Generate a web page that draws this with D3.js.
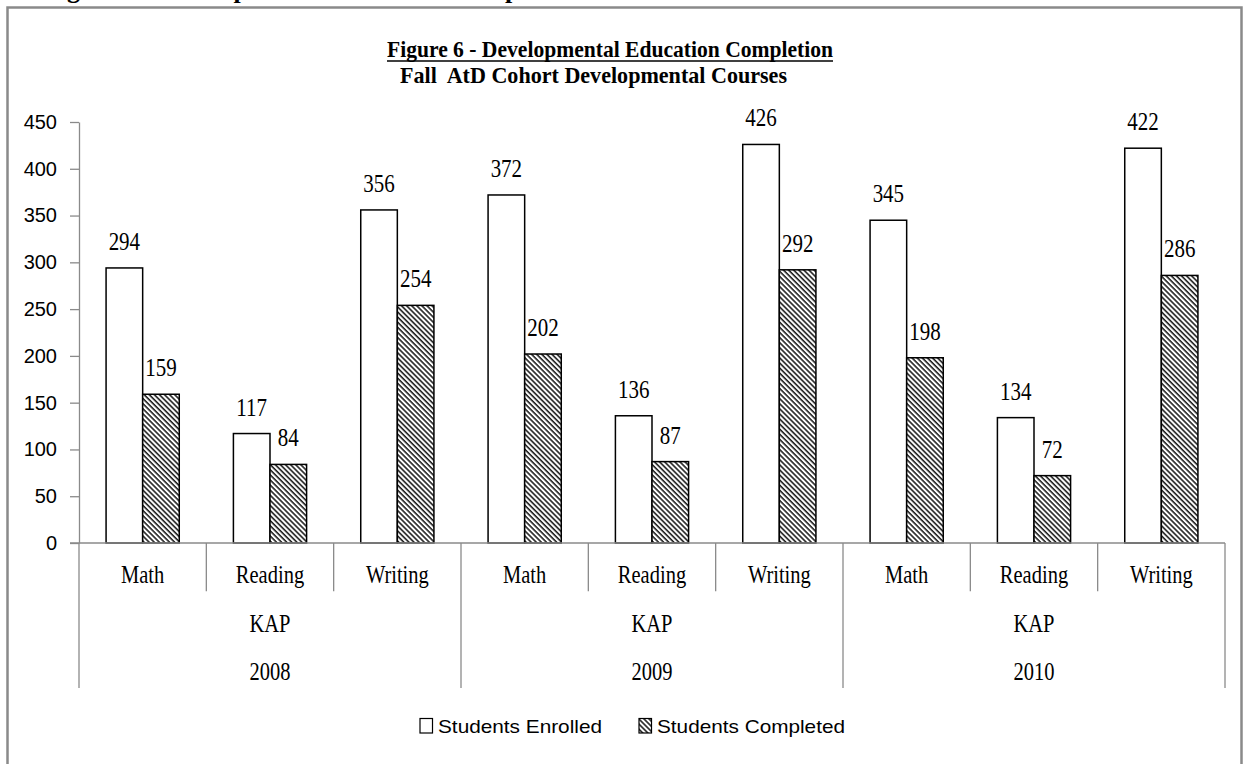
<!DOCTYPE html>
<html>
<head>
<meta charset="utf-8">
<script src="https://cdn.jsdelivr.net/npm/d3@7"></script>
<style>
  body { margin: 0; background: #fff; }
  svg { display: block; }
</style>
</head>
<body>
<div id="chart"></div>
<script>
(function() {
  // data
  var courses = ["Math", "Reading", "Writing", "Math", "Reading", "Writing", "Math", "Reading", "Writing"];
  var programs = ["KAP", "KAP", "KAP"];
  var years = ["2008", "2009", "2010"];
  var enrolled = [294, 117, 356, 372, 136, 426, 345, 134, 422];
  var completed = [159, 84, 254, 202, 87, 292, 198, 72, 286];
  var seriesNames = ["Students Enrolled", "Students Completed"];
  var yTicks = [0, 50, 100, 150, 200, 250, 300, 350, 400, 450];

  var width = 1252, height = 764;
  var plot = { left: 79, right: 1225, top: 122, bottom: 543 };
  var levelH = 48.3;

  var svg = d3.select("#chart")
    .append("svg")
    .attr("width", width)
    .attr("height", height);

  // hatch for the completed bars
  svg.append("defs")
    .append("pattern")
    .attr("id", "hatch")
    .attr("patternUnits", "userSpaceOnUse")
    .attr("width", 3.6)
    .attr("height", 3.6)
    .attr("patternTransform", "rotate(-45)")
    .call(function(p) {
      p.append("rect").attr("width", 3.6).attr("height", 3.6).attr("fill", "#fff");
      p.append("line").attr("x1", 1).attr("y1", 0).attr("x2", 1).attr("y2", 3.6)
        .attr("stroke", "#000").attr("stroke-width", 1.4);
    });

  function serif(g, x, y, txt, size, weight) {
    return g.append("text")
      .attr("transform", "translate(" + x + "," + y + ") scale(1,1.2)")
      .attr("text-anchor", "middle")
      .style("font-family", "'Liberation Serif', 'Times New Roman', serif")
      .style("font-size", size + "px")
      .style("font-weight", weight || "normal")
      .attr("fill", "#000")
      .text(txt);
  }

  // heading of the page, cut off by the top edge as in the picture
  svg.append("text")
    .attr("x", 44)
    .attr("y", -2)
    .style("font-family", "'Liberation Serif', serif")
    .style("font-size", "26px")
    .style("font-weight", "bold")
    .text("Figure 6 - Developmental Education Completion");

  // chart frame
  svg.append("rect")
    .attr("x", 7.5)
    .attr("y", 7.5)
    .attr("width", 1234)
    .attr("height", 800)
    .attr("fill", "#fff")
    .attr("stroke", "#8a8a8a")
    .attr("stroke-width", 2.5);

  // titles
  serif(svg, 610, 57, "Figure 6 - Developmental Education Completion", 18.5, "bold")
    .attr("textLength", 446).attr("lengthAdjust", "spacingAndGlyphs");
  svg.append("line")
    .attr("x1", 387).attr("x2", 833)
    .attr("y1", 61).attr("y2", 61)
    .attr("stroke", "#000").attr("stroke-width", 1.5);
  serif(svg, 593.5, 83, "Fall  AtD Cohort Developmental Courses", 18.5, "bold")
    .attr("textLength", 387).attr("lengthAdjust", "spacingAndGlyphs")
    .attr("xml:space", "preserve");

  // scales
  var idx = d3.range(courses.length);
  var xScale = d3.scaleBand().domain(idx).range([plot.left, plot.right]).padding(0);
  var xInner = d3.scaleBand().domain(seriesNames).range([0, xScale.bandwidth()])
    .paddingInner(0).paddingOuter(0.74);
  var yScale = d3.scaleLinear().domain([0, 450]).range([plot.bottom, plot.top]);

  var rows = idx.map(function(i) {
    return { i: i, values: [enrolled[i], completed[i]] };
  });

  // bars
  var groups = svg.selectAll(".cat")
    .data(rows)
    .enter()
    .append("g")
    .attr("class", "cat")
    .attr("transform", function(d) { return "translate(" + xScale(d.i) + ",0)"; });

  groups.selectAll("rect")
    .data(function(d) { return d.values.map(function(v, k) { return { s: seriesNames[k], v: v }; }); })
    .enter()
    .append("rect")
    .attr("x", function(d) { return xInner(d.s); })
    .attr("width", xInner.bandwidth())
    .attr("y", function(d) { return yScale(d.v); })
    .attr("height", function(d) { return yScale(0) - yScale(d.v); })
    .attr("fill", function(d) { return d.s === seriesNames[0] ? "#fff" : "url(#hatch)"; })
    .attr("stroke", "#000")
    .attr("stroke-width", 1.5);

  groups.each(function(d) {
    var g = d3.select(this);
    d.values.forEach(function(v, k) {
      serif(g, xInner(seriesNames[k]) + xInner.bandwidth() / 2, yScale(v) - 18, v, 21);
    });
  });

  // y axis
  var yAxis = d3.axisLeft(yScale).tickValues(yTicks).tickSize(9).tickSizeOuter(0).tickPadding(13);
  var yg = svg.append("g")
    .attr("class", "axis y-axis")
    .attr("transform", "translate(" + plot.left + ",0)")
    .call(yAxis);
  yg.selectAll("path, line").attr("stroke", "#8a8a8a").attr("stroke-width", 1.3);
  yg.selectAll("text")
    .style("font-family", "'Liberation Sans', Arial, sans-serif")
    .style("font-size", "20px")
    .attr("fill", "#000");

  // x axis (baseline)
  var xAxis = d3.axisBottom(xScale).tickSize(0).tickFormat(function() { return ""; });
  var xg = svg.append("g")
    .attr("class", "axis x-axis")
    .attr("transform", "translate(0," + plot.bottom + ")")
    .call(xAxis);
  xg.select(".domain").attr("d", "M" + (plot.left - 9) + ",0H" + plot.right)
    .attr("stroke", "#8a8a8a").attr("stroke-width", 1.3);

  // multi-level category labels
  var bottomG = svg.append("g").attr("class", "levels");
  var edges = d3.range(courses.length + 1).map(function(i) {
    return i < courses.length ? xScale(i) : xScale(courses.length - 1) + xScale.bandwidth();
  });
  edges.forEach(function(x, i) {
    var long = (i % 3 === 0);
    bottomG.append("line")
      .attr("x1", x).attr("x2", x)
      .attr("y1", plot.bottom)
      .attr("y2", plot.bottom + (long ? levelH * 3 : levelH))
      .attr("stroke", "#8a8a8a").attr("stroke-width", 1.3);
  });

  idx.forEach(function(i) {
    serif(bottomG, xScale(i) + xScale.bandwidth() / 2, plot.bottom + 40, courses[i], 20.5);
  });
  years.forEach(function(y, j) {
    var cx = (xScale(j * 3) + xScale(j * 3 + 2) + xScale.bandwidth()) / 2;
    serif(bottomG, cx, plot.bottom + 89, programs[j], 20.5);
    serif(bottomG, cx, plot.bottom + 137, y, 20.5);
  });

  // legend
  var legendX = [420, 639];
  var legendW = [164, 188];
  var legend = svg.append("g").attr("class", "legend");
  seriesNames.forEach(function(name, k) {
    legend.append("rect")
      .attr("x", legendX[k]).attr("y", 718.5)
      .attr("width", 12.5).attr("height", 14.5)
      .attr("fill", k === 0 ? "#fff" : "url(#hatch)")
      .attr("stroke", "#000").attr("stroke-width", 1.2);
    legend.append("text")
      .attr("x", legendX[k] + 18)
      .attr("y", 733)
      .attr("textLength", legendW[k])
      .attr("lengthAdjust", "spacingAndGlyphs")
      .style("font-family", "'Liberation Sans', Arial, sans-serif")
      .style("font-size", "19px")
      .text(name);
  });
})();
</script>
</body>
</html>
